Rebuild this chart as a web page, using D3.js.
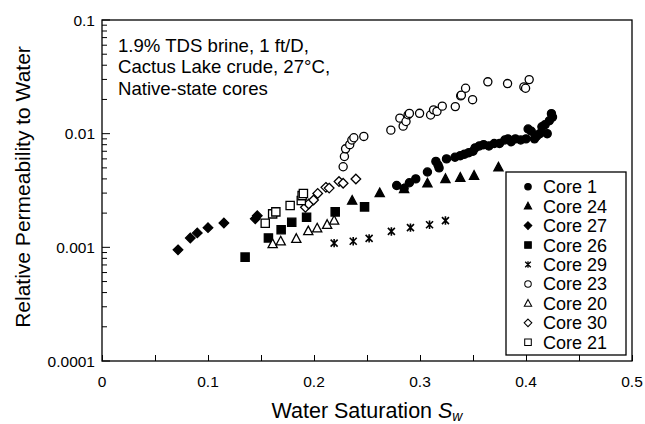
<!DOCTYPE html>
<html>
<head>
<meta charset="utf-8">
<script src="https://cdn.jsdelivr.net/npm/d3@7"></script>
<style>
  body { margin: 0; background: #fff; }
  svg { font-family: "Liberation Sans", Arial, sans-serif; }
</style>
</head>
<body>
<div id="chart"></div>
<script>
// values (Sw, krw)
const core1 = [[0.278,0.0035],[0.285,0.0033],[0.29,0.0037],[0.296,0.0040],[0.307,0.0046],[0.315,0.0057],[0.317,0.0053],[0.318,0.0050],[0.325,0.0060],[0.333,0.0062],[0.338,0.0064],[0.342,0.0066],[0.346,0.0068],[0.35,0.0070],[0.352,0.0075],[0.356,0.0078],[0.36,0.0080],[0.365,0.0078],[0.37,0.0082],[0.375,0.0082],[0.38,0.0088],[0.383,0.0090],[0.386,0.0085],[0.39,0.0090],[0.395,0.0088],[0.40,0.0090],[0.402,0.0110],[0.405,0.0105],[0.408,0.0090],[0.41,0.0095],[0.413,0.0100],[0.415,0.0115],[0.418,0.0120],[0.42,0.0100],[0.422,0.0130],[0.424,0.0150],[0.425,0.0140]];
const core24 = [[0.236,0.00258],[0.262,0.0030],[0.285,0.00326],[0.307,0.00366],[0.324,0.0040],[0.338,0.0041],[0.351,0.00427],[0.374,0.00506]];
const core27 = [[0.0717,0.00095],[0.0833,0.00121],[0.0899,0.00134],[0.100,0.00149],[0.115,0.00164],[0.1446,0.00178],[0.1465,0.0019]];
const core26 = [[0.135,0.00082],[0.157,0.00121],[0.169,0.00143],[0.179,0.00166],[0.193,0.00184],[0.220,0.00205],[0.2477,0.00227]];
const core29 = [[0.219,0.00109],[0.237,0.00113],[0.252,0.00120],[0.273,0.00138],[0.291,0.00149],[0.309,0.00158],[0.324,0.00172]];
const core23 = [[0.2275,0.00512],[0.2287,0.0063],[0.2298,0.00736],[0.2337,0.0080],[0.2357,0.00879],[0.2376,0.0092],[0.247,0.00946],[0.2725,0.01074],[0.281,0.0137],[0.2841,0.01165],[0.2868,0.0128],[0.2888,0.01466],[0.29,0.01506],[0.2996,0.0151],[0.31,0.0146],[0.3128,0.0162],[0.316,0.0157],[0.321,0.01746],[0.3333,0.0173],[0.3384,0.0215],[0.339,0.0218],[0.343,0.0251],[0.3496,0.0199],[0.364,0.0286],[0.3826,0.0276],[0.398,0.0258],[0.3996,0.0251],[0.403,0.0299]];
const core20 = [[0.161,0.00107],[0.1686,0.00113],[0.1833,0.00119],[0.1946,0.00139],[0.203,0.00147],[0.2124,0.00158],[0.219,0.00172]];
const core30 = [[0.1919,0.00225],[0.195,0.00241],[0.1996,0.00261],[0.2035,0.00298],[0.2112,0.00337],[0.2143,0.00332],[0.2236,0.00379],[0.2275,0.00366],[0.2395,0.00399]];
const core21 = [[0.154,0.00163],[0.161,0.00197],[0.164,0.00205],[0.1775,0.00233],[0.188,0.00258],[0.1888,0.00285],[0.19,0.00298]];

const seriesNames = ["Core 1","Core 24","Core 27","Core 26","Core 29","Core 23","Core 20","Core 30","Core 21"];
const seriesData = [core1, core24, core27, core26, core29, core23, core20, core30, core21];
const seriesMarker = ["circle","triangle","diamond","square","star","circle","triangle","diamond","square"];
const seriesFilled = [true,true,true,true,true,false,false,false,false];

const xTicks = [0, 0.1, 0.2, 0.3, 0.4, 0.5];
const yTicks = [0.0001, 0.001, 0.01, 0.1];
const yTickLabels = ["0.0001", "0.001", "0.01", "0.1"];
const noteLines = ["1.9% TDS brine, 1 ft/D,", "Cactus Lake crude, 27°C,", "Native-state cores"];

const W = 645, H = 424;
const margin = {top: 20, right: 13, bottom: 63, left: 102};

const svg = d3.select("#chart").append("svg")
  .attr("width", W).attr("height", H);

const x = d3.scaleLinear().domain([0, 0.5]).range([margin.left, W - margin.right]);
const y = d3.scaleLog().domain([0.0001, 0.1]).range([H - margin.bottom, margin.top]);

// marker shapes
function markerPath(kind) {
  if (kind === "circle") return d3.symbol(d3.symbolCircle, 52)();
  if (kind === "triangle") return "M0,-5L4.6,3.6L-4.6,3.6Z";
  if (kind === "diamond") return "M0,-4.8L4.8,0L0,4.8L-4.8,0Z";
  if (kind === "square") return d3.symbol(d3.symbolSquare, 68)();
  // asterisk: x with a vertical bar
  return "M-3.5,-3.5L3.5,3.5M-3.5,3.5L3.5,-3.5M0,-4.2L0,4.2";
}

function drawMarker(g, kind, filled) {
  g.append("path")
    .attr("d", markerPath(kind))
    .attr("fill", filled && kind !== "star" ? "#000" : "#fff")
    .attr("stroke", "#000")
    .attr("stroke-width", kind === "star" ? 1.6 : 1.3);
}

// x axis (ticks inward)
const xAxis = svg.append("g")
  .attr("transform", `translate(0,${H - margin.bottom})`)
  .call(d3.axisBottom(x).tickValues(d3.range(0, 0.5001, 0.05)).tickSize(-6).tickFormat(""));
xAxis.select(".domain").remove();
xAxis.selectAll("line").attr("stroke-width", 1);

svg.append("g").selectAll("text")
  .data(xTicks)
  .join("text")
  .attr("x", d => x(d))
  .attr("y", 387)
  .attr("text-anchor", "middle")
  .attr("font-size", 15.5)
  .text(d => d === 0 ? "0" : d3.format(".1f")(d));

// y axis with log minor ticks
const minorY = [];
[0.0001, 0.001, 0.01].forEach(p => { for (let k = 2; k <= 9; k++) minorY.push(p * k); });
svg.append("g").selectAll("line")
  .data(minorY)
  .join("line")
  .attr("x1", margin.left).attr("x2", margin.left + 5)
  .attr("y1", d => y(d)).attr("y2", d => y(d))
  .attr("stroke", "#000");
svg.append("g").selectAll("line")
  .data(yTicks)
  .join("line")
  .attr("x1", margin.left).attr("x2", margin.left + 8)
  .attr("y1", d => y(d)).attr("y2", d => y(d))
  .attr("stroke", "#000");
svg.append("g").selectAll("text")
  .data(yTicks)
  .join("text")
  .attr("x", margin.left - 7)
  .attr("y", d => y(d) + 5.5)
  .attr("text-anchor", "end")
  .attr("font-size", 15.5)
  .text((d, i) => yTickLabels[i]);

// frame
svg.append("rect")
  .attr("x", margin.left).attr("y", margin.top)
  .attr("width", W - margin.left - margin.right)
  .attr("height", H - margin.top - margin.bottom)
  .attr("fill", "none").attr("stroke", "#000").attr("stroke-width", 1.3);

// axis titles
svg.append("text")
  .attr("transform", "translate(30,187) rotate(-90)")
  .attr("text-anchor", "middle")
  .attr("font-size", 21)
  .text("Relative Permeability to Water");

const xt = svg.append("text")
  .attr("x", x(0.25))
  .attr("y", 418)
  .attr("text-anchor", "middle")
  .attr("font-size", 21.5);
xt.append("tspan").text("Water Saturation ");
xt.append("tspan").attr("font-style", "italic").text("S");
xt.append("tspan").attr("font-style", "italic").attr("font-size", 14).attr("dy", 3).text("w");

// annotation
svg.append("g").selectAll("text")
  .data(noteLines)
  .join("text")
  .attr("x", 118)
  .attr("y", (d, i) => 51.5 + i * 21.8)
  .attr("font-size", 18.6)
  .text(d => d);

// data points
seriesData.forEach((data, i) => {
  const g = svg.append("g");
  data.forEach(d => {
    const m = g.append("g").attr("transform", `translate(${x(d[0])},${y(d[1])})`);
    drawMarker(m, seriesMarker[i], seriesFilled[i]);
  });
});

// legend
const legend = svg.append("g");
legend.append("rect")
  .attr("x", 506).attr("y", 172)
  .attr("width", 120).attr("height", 183)
  .attr("fill", "#fff").attr("stroke", "#000").attr("stroke-width", 1.3);
seriesNames.forEach((name, i) => {
  const ly = 186.7 + i * 19.45;
  const m = legend.append("g").attr("transform", `translate(528,${ly}) scale(0.8)`);
  drawMarker(m, seriesMarker[i], seriesFilled[i]);
  legend.append("text")
    .attr("x", 543).attr("y", ly + 6.5)
    .attr("font-size", 18)
    .text(name);
});
</script>
</body>
</html>
